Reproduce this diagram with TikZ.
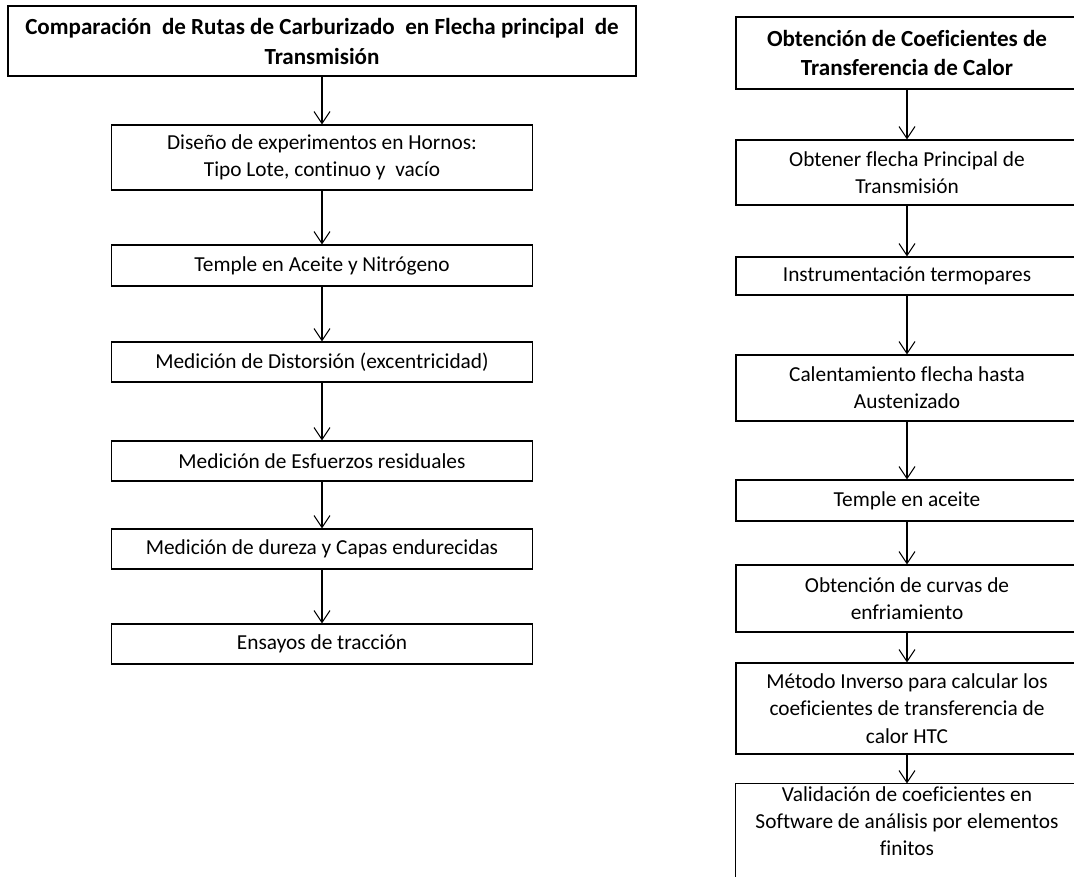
\documentclass[tikz,border=0pt]{standalone}
\usepackage{fontspec}
\setmainfont{Carlito}[Ligatures=NoCommon]
\usetikzlibrary{arrows.meta}

\begin{document}
\begin{tikzpicture}[x=0.75pt,y=-0.75pt,
    paso/.style={draw, line width=0.8pt, align=center, inner sep=0pt,
        font=\fontsize{16}{20.5}\selectfont},
    titulo/.style={paso, font=\fontsize{17.3}{21.5}\selectfont\bfseries},
    izq/.style={paso, minimum width=315.75pt, minimum height=30pt},
    der/.style={paso, minimum width=256.5pt},
    flecha/.style={-{Straight Barb[length=9pt,width=12pt]}, line width=0.8pt}]
\clip (0,0) rectangle (1074,877);

\node[titulo, font=\fontsize{17.3}{22.5}\selectfont\bfseries,
    minimum width=471pt, minimum height=52.5pt] (tA) at (322,41)
    {Comparación\ \ de Rutas de Carburizado\ \ en Flecha principal\ \ de\\Transmisión};
\node[izq, minimum height=48.75pt] (lA) at (322,157.5)
    {Diseño de experimentos en Hornos:\\Tipo Lote, continuo y\ \ vacío};
\node[izq, minimum height=30.75pt] (lB) at (322,265.5) {Temple en Aceite y Nitrógeno};
\node[izq] (lC) at (322,362) {Medición de Distorsión (excentricidad)};
\node[izq] (lD) at (322,461) {Medición de Esfuerzos residuales};
\node[izq] (lE) at (322,549) {Medición de dureza y Capas endurecidas};
\node[izq] (lF) at (322,644) {Ensayos de tracción};

\node[titulo, minimum width=256.5pt, minimum height=54pt] (tB) at (907,53)
    {Obtención de Coeficientes de\\Transferencia de Calor};
\node[der, minimum height=48.75pt] (rA) at (907,172.5) {Obtener flecha Principal de\\Transmisión};
\node[der, minimum height=28.5pt] (rB) at (907,276) {Instrumentación termopares};
\node[der, minimum height=49.5pt] (rC) at (907,388) {Calentamiento flecha hasta\\Austenizado};
\node[der, minimum height=30.75pt] (rD) at (907,500.5) {Temple en aceite};
\node[der, minimum height=50.25pt] (rE) at (907,598.5) {Obtención de curvas de\\enfriamiento};
\node[der, minimum height=68.25pt] (rF) at (907,708.5)
    {Método Inverso para calcular los\\coeficientes de transferencia de\\calor HTC};
\node[der, draw=none, minimum height=55.5pt] (rG) at (907,821)
    {Validación de coeficientes en\\Software de análisis por elementos\\finitos};
\draw[line width=0.8pt] (rG.north west) rectangle ([yshift=-30pt]rG.south east);

\foreach \a/\b in {tA/lA, lA/lB, lB/lC, lC/lD, lD/lE, lE/lF,
    tB/rA, rA/rB, rB/rC, rC/rD, rD/rE, rE/rF, rF/rG}
    \draw[flecha] (\a.south) -- (\b.north);

\end{tikzpicture}
\end{document}
